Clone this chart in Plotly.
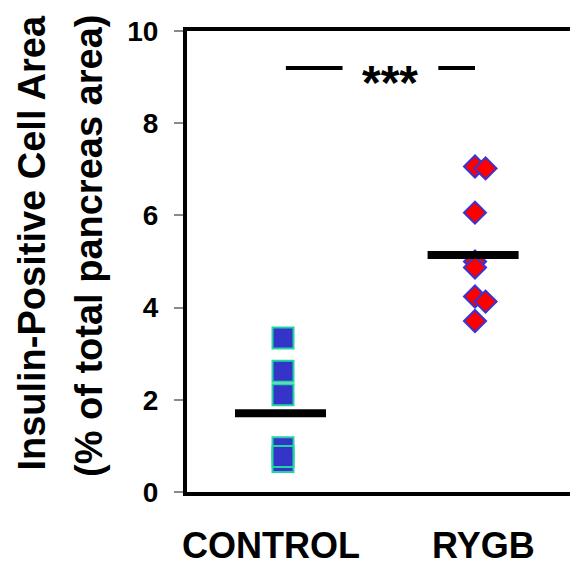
import plotly.graph_objects as go

# ---- data ----
categories = ["CONTROL", "RYGB"]
control_values = [3.34, 2.62, 2.11, 0.96, 0.66, 0.77]
control_jitter = [0, 0, 0, 0, 0, 0]
rygb_values = [7.06, 7.02, 6.06, 5.0, 4.87, 4.24, 4.13, 3.71]
rygb_jitter = [0, 0.055, 0, 0, 0, 0, 0.055, 0]
group_means = [1.71, 5.14]
sig_level = 9.2
sig_text = "***"
y_ticks = [0, 2, 4, 6, 8, 10]
y_title_1 = "Insulin-Positive Cell Area"
y_title_2 = "(% of total pancreas area)"

FONT = "Arial, 'Liberation Sans', sans-serif"

fig = go.Figure()

# Control squares
fig.add_trace(go.Scatter(
    x=[0 + j for j in control_jitter], y=control_values, mode="markers",
    marker=dict(symbol="square", size=21, color="#3434c8",
                line=dict(color="#22d4a4", width=2)),
    showlegend=False, hoverinfo="y"))

# RYGB diamonds
fig.add_trace(go.Scatter(
    x=[1 + j for j in rygb_jitter], y=rygb_values, mode="markers",
    marker=dict(symbol="diamond", size=17, color="#ff0000",
                line=dict(color="#3535d8", width=2)),
    showlegend=False, hoverinfo="y"))

# Mean bars
centers = [-0.013, 0.99]
for c, m in zip(centers, group_means):
    fig.add_trace(go.Scatter(
        x=[c - 0.237, c + 0.237], y=[m, m], mode="lines",
        line=dict(color="black", width=8), showlegend=False, hoverinfo="skip"))

# Significance segments
for x0, x1 in [(0.015, 0.31), (0.809, 1.0)]:
    fig.add_trace(go.Scatter(
        x=[x0, x1], y=[sig_level, sig_level], mode="lines",
        line=dict(color="black", width=4), showlegend=False, hoverinfo="skip"))

fig.add_annotation(x=0.555, y=sig_level, text=sig_text, showarrow=False,
                   font=dict(family=FONT, size=48, color="black", weight="bold"),
                   xanchor="center", yanchor="middle", yshift=-15)

# The page adds an 8px body margin; the figure is sized to fill the rest.
OFF = 8
W, H = 578 - OFF, 569 - OFF
L, R, T, B = 187 - OFF, 3, 31 - OFF, 77
pw, ph = W - L - R, H - T - B

# Category labels
for xpos, lab in zip([-0.062, 1.046], categories):
    fig.add_annotation(x=xpos, y=(492 - 545) / ph, yref="paper", text=lab,
                       showarrow=False,
                       font=dict(family=FONT, size=36, color="black", weight="bold"),
                       xanchor="center", yanchor="middle")

# Y titles (pixel positions in the reference converted to paper coords)
for px, py, txt in [(30, 243, y_title_1), (88, 246, y_title_2)]:
    fig.add_annotation(x=(px - 187) / pw, y=(492 - py) / ph,
                       xref="paper", yref="paper", text=txt,
                       showarrow=False, textangle=-90,
                       font=dict(family=FONT, size=38, color="black", weight="bold"),
                       xanchor="center", yanchor="middle")

fig.update_layout(
    width=W, height=H,
    margin=dict(l=L, r=R, t=T, b=B),
    paper_bgcolor="white", plot_bgcolor="white",
    xaxis=dict(range=[-0.5, 1.5], showgrid=False, zeroline=False,
               showticklabels=False, ticks="",
               showline=True, linecolor="black", linewidth=4, mirror=True),
    yaxis=dict(range=[0, 10], tickvals=y_ticks, showgrid=False, zeroline=False,
               ticks="outside", ticklen=9, tickwidth=2, tickcolor="#8a8a8a",
               tickfont=dict(family=FONT, size=28, color="black", weight="bold"),
               ticklabelstandoff=10,
               showline=True, linecolor="black", linewidth=4, mirror=True),
)

fig.write_html("out.html")
